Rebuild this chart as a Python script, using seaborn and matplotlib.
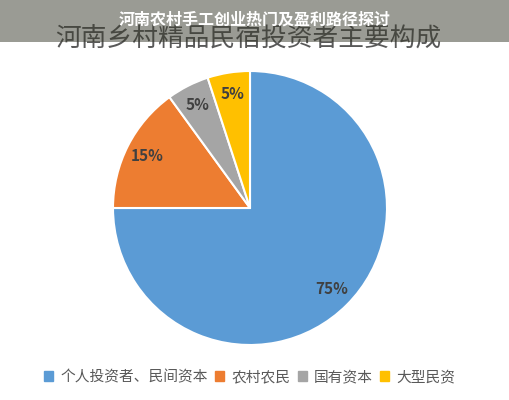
import matplotlib.pyplot as plt
import matplotlib.patches as mpatches
import seaborn as sns

# data
categories = ['个人投资者、民间资本', '农村农民', '国有资本', '大型民资']
shares = [75, 15, 5, 5]
colors = ['#5B9BD5', '#ED7D31', '#A5A5A5', '#FFC000']
title = '河南乡村精品民宿投资者主要构成'
banner = '河南农村手工创业热门及盈利路径探讨'

sns.set_theme(style='white')
plt.rcParams['font.family'] = ['Noto Sans CJK SC', 'DejaVu Sans']

fig = plt.figure(figsize=(5.09, 4.0), dpi=100)
W, H = 509, 400
cx, cy, r = 250, 208, 137
ax = fig.add_axes([(cx - r) / W, (H - cy - r) / H, 2 * r / W, 2 * r / H])

wedges, texts, autotexts = ax.pie(
    shares, colors=colors, startangle=90, counterclock=False,
    autopct='%1.0f%%', pctdistance=0.84,
    wedgeprops=dict(edgecolor='white', linewidth=1.5),
    textprops=dict(color='#404040', fontsize=11, fontweight='bold'))
ax.set_xlim(-1, 1)
ax.set_ylim(-1, 1)
ax.set_aspect('equal')
ax.axis('off')

fig.text(248 / W, 1 - 40 / H, title, ha='center', va='center',
         fontsize=18.5, color='#595959', fontweight='light')

handles = [mpatches.Patch(color=c, label=l) for c, l in zip(colors, categories)]
fig.legend(handles=handles, loc='center', bbox_to_anchor=(250 / W, 1 - 377 / H),
           ncol=4, frameon=False, fontsize=10.6, handlelength=0.6, handleheight=0.6,
           handletextpad=0.5, columnspacing=0.5, labelcolor='#595959')

# semi-transparent banner on top
fig.patches.append(mpatches.Rectangle((0, 1 - 42 / H), 1, 42 / H, transform=fig.transFigure,
                                      facecolor=(0.21, 0.22, 0.17), alpha=0.5,
                                      edgecolor='none', zorder=5))
fig.text(255 / W, 1 - 20 / H, banner, ha='center', va='center', fontsize=11.5,
         color='white', fontweight='bold', zorder=6)

fig.savefig('out.png', dpi=100)
